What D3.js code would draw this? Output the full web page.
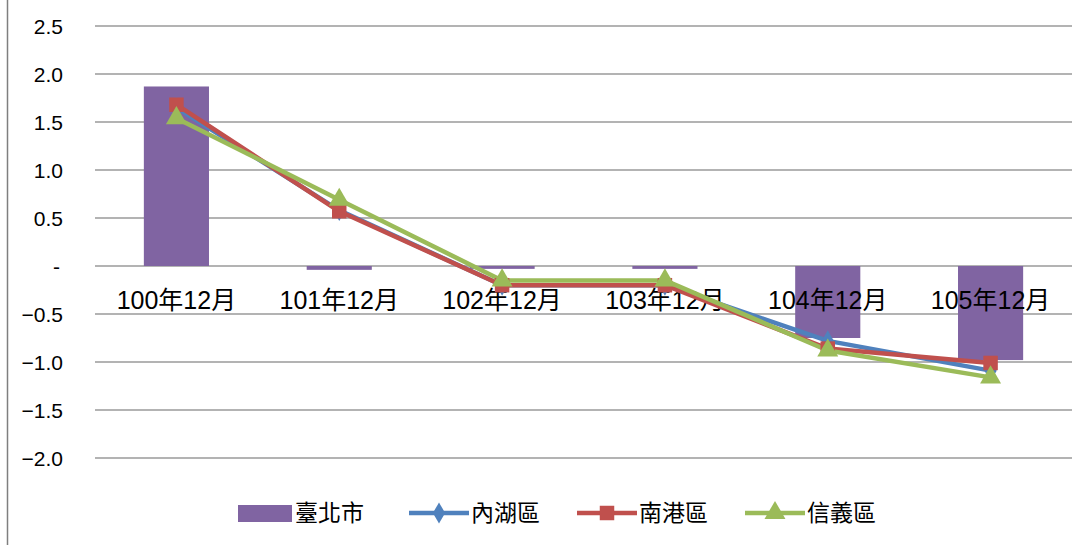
<!DOCTYPE html>
<html>
<head>
<meta charset="utf-8">
<script src="https://cdn.jsdelivr.net/npm/d3@7"></script>
<style>
  body { margin: 0; background: #fff; }
  text { font-family: "Liberation Sans", "Noto Sans CJK TC", sans-serif; fill: #000; }
</style>
</head>
<body>
<div id="chart"></div>
<script>
// data
const categories = ["100年12月", "101年12月", "102年12月", "103年12月", "104年12月", "105年12月"]
const taipei   = [1.87, -0.04, -0.03, -0.03, -0.75, -0.98]
const neihu    = [1.65, 0.58, -0.20, -0.20, -0.78, -1.09]
const nangang  = [1.68, 0.57, -0.20, -0.20, -0.86, -1.01]
const xinyi    = [1.54, 0.69, -0.15, -0.15, -0.88, -1.16]
const yTicks = [2.5, 2.0, 1.5, 1.0, 0.5, 0, -0.5, -1.0, -1.5, -2.0]

const lineSeries = [
  { name: "內湖區", values: neihu,   color: "#4F81BD", marker: d3.symbolDiamond, size: 130 },
  { name: "南港區", values: nangang, color: "#C0504D", marker: d3.symbolSquare,  size: 210 },
  { name: "信義區", values: xinyi,   color: "#9BBB59", marker: d3.symbolTriangle, size: 190 }
]

const width = 1088, height = 545

const svg = d3.select("#chart")
  .append("svg")
    .attr("width", width)
    .attr("height", height)

// outer border (only left edge visible)
svg.append("line")
  .attr("x1", 7.5).attr("x2", 7.5)
  .attr("y1", 0).attr("y2", height)
  .style("stroke", "#7f7f7f")
  .style("stroke-width", 1.5)

const x = d3.scaleBand()
  .domain(categories)
  .range([95, 1072])

const y = d3.scaleLinear()
  .domain([-2.0, 2.5])
  .range([458, 26])

// grid lines
svg.append("g")
  .selectAll("line")
  .data(yTicks)
  .join("line")
    .attr("x1", 95)
    .attr("x2", 1072)
    .attr("y1", d => y(d))
    .attr("y2", d => y(d))
    .style("stroke", "#9a9a9a")
    .style("stroke-width", 1.5)

// y tick labels
svg.append("g")
  .selectAll("text")
  .data(yTicks)
  .join("text")
    .attr("x", d => d === 0 ? 60 : 63)
    .attr("y", d => y(d))
    .attr("dy", "0.36em")
    .attr("text-anchor", "end")
    .style("font-size", "21px")
    .text(d => d === 0 ? "-" : d3.format(".1f")(d))

// bars
const barW = x.bandwidth() * 0.4
svg.append("g")
  .selectAll("rect")
  .data(taipei)
  .join("rect")
    .attr("x", (d, i) => x(categories[i]) + (x.bandwidth() - barW) / 2)
    .attr("y", d => y(Math.max(0, d)))
    .attr("width", barW)
    .attr("height", d => Math.abs(y(d) - y(0)))
    .style("fill", "#8064A2")

// category labels
svg.append("g")
  .selectAll("text")
  .data(categories)
  .join("text")
    .attr("x", d => x(d) + x.bandwidth() / 2)
    .attr("y", 300)
    .attr("dy", "0.36em")
    .attr("text-anchor", "middle")
    .style("font-size", "25px")
    .text(d => d)

// lines + markers
const cx = i => x(categories[i]) + x.bandwidth() / 2
const line = d3.line()
  .x((d, i) => cx(i))
  .y(d => y(d))

lineSeries.forEach(s => {
  svg.append("path")
    .datum(s.values)
    .attr("d", line)
    .style("fill", "none")
    .style("stroke", s.color)
    .style("stroke-width", 4.5)
    .style("stroke-linejoin", "round")
})
lineSeries.forEach(s => {
  svg.append("g")
    .selectAll("path")
    .data(s.values)
    .join("path")
      .attr("transform", (d, i) => `translate(${cx(i)},${y(d)})`)
      .attr("d", d3.symbol().type(s.marker).size(s.size))
      .style("fill", s.color)
})

// legend
const legend = svg.append("g")
legend.append("rect")
  .attr("x", 238).attr("y", 505)
  .attr("width", 54).attr("height", 17)
  .style("fill", "#8064A2")
legend.append("text")
  .attr("x", 295).attr("y", 513).attr("dy", "0.36em")
  .style("font-size", "23px")
  .text("臺北市")

const legendX = [409, 577, 745]
lineSeries.forEach((s, i) => {
  const lx = legendX[i]
  legend.append("line")
    .attr("x1", lx).attr("x2", lx + 60)
    .attr("y1", 513).attr("y2", 513)
    .style("stroke", s.color)
    .style("stroke-width", 4.5)
  legend.append("path")
    .attr("transform", `translate(${lx + 30},513)`)
    .attr("d", d3.symbol().type(s.marker).size(s.size))
    .style("fill", s.color)
  legend.append("text")
    .attr("x", lx + 62).attr("y", 513).attr("dy", "0.36em")
    .style("font-size", "23px")
    .text(s.name)
})
</script>
</body>
</html>
